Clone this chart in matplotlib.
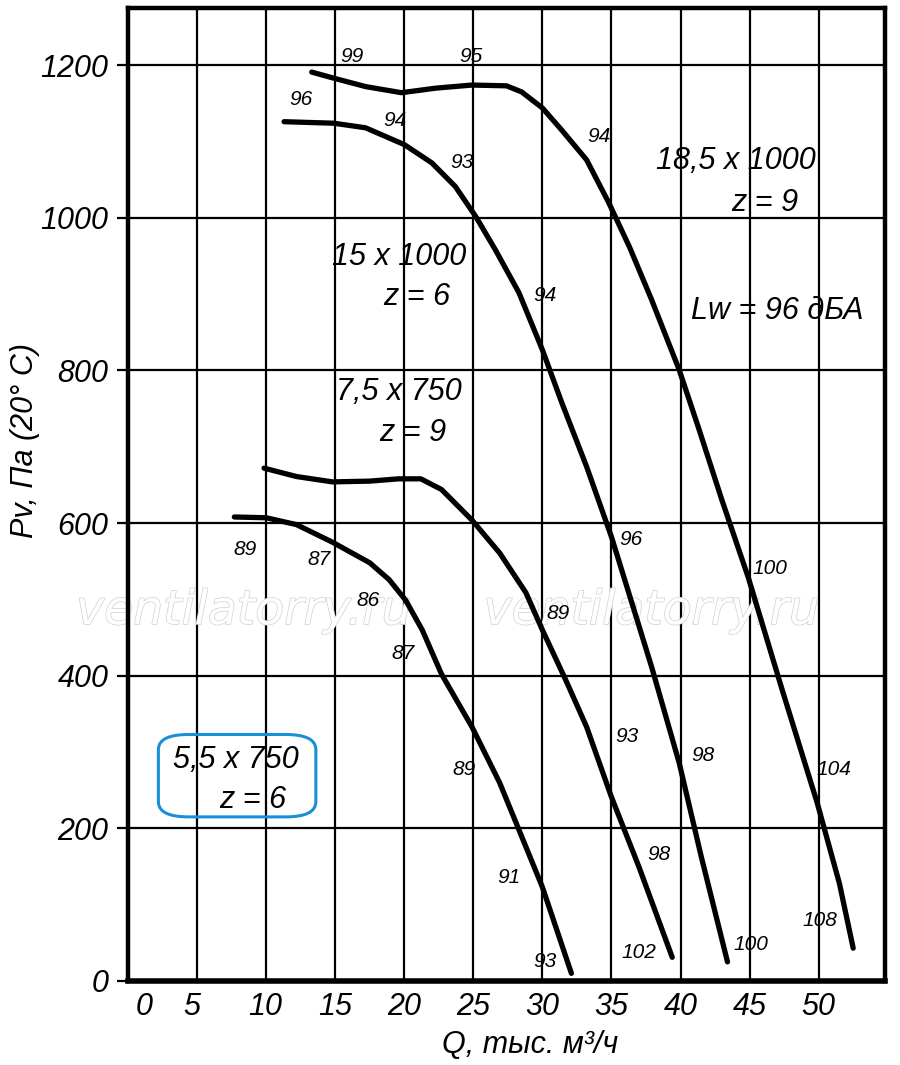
import matplotlib
matplotlib.use("Agg")
import matplotlib.pyplot as plt
import matplotlib.patheffects as pe
from matplotlib.patches import FancyBboxPatch

FONT = ['Liberation Sans', 'DejaVu Sans']
plt.rcParams['font.family'] = FONT
plt.rcParams['font.style'] = 'italic'

# --- fan curves, Q [thousand m3/h] vs Pv [Pa] ---
q_55 = [7.7, 10.0, 12.2, 14.8, 17.5, 18.9, 20.1, 21.3, 22.7, 24.9, 26.9, 28.1, 30.0, 32.1]
p_55 = [608, 607, 598, 575, 548, 526, 499, 460, 402, 333, 260, 207, 123, 10]

q_75 = [9.85, 12.2, 14.8, 17.5, 19.6, 21.2, 22.7, 24.9, 26.9, 28.8, 30.0, 31.7, 33.2, 35.0, 37.0, 39.4]
p_75 = [672, 661, 654, 655, 658, 658, 644, 604, 561, 509, 460, 394, 333, 241, 149, 31]

q_150 = [11.3, 14.9, 17.2, 20.0, 22.0, 23.7, 25.2, 26.6, 28.3, 30.0, 31.4, 33.2, 35.0, 37.9,
         39.9, 41.5, 43.4]
p_150 = [1126, 1124, 1118, 1096, 1072, 1041, 1001, 958, 902, 827, 758, 674, 582, 412,
         286, 163, 25]

q_185 = [13.3, 14.9, 17.2, 19.8, 22.3, 24.9, 27.4, 28.5, 30.0, 31.4, 33.2, 34.8, 36.3, 37.9,
         39.9, 41.3, 43.0, 44.9, 47.3, 49.9, 51.5, 52.5]
p_185 = [1191, 1183, 1172, 1164, 1170, 1174, 1173, 1165, 1144, 1115, 1076, 1020, 962, 893,
         801, 725, 630, 529, 385, 233, 128, 43]

# noise level marks along the curves: (Q, P, text)
noise_q = [16.2, 24.8, 12.5, 19.3, 24.2, 34.1, 30.2, 8.5, 13.8, 17.4, 19.9, 31.1, 36.4, 46.5,
           36.1, 24.3, 41.6, 51.1, 38.4, 27.6, 50.1, 45.1, 37.0, 30.2]
noise_p = [1211, 1211, 1155, 1128, 1072, 1106, 898, 565, 552, 498, 429, 482, 578, 541,
           320, 277, 295, 277, 166, 135, 79, 48, 37, 25]
noise_t = ['99', '95', '96', '94', '93', '94', '94', '89', '87', '86', '87', '89', '96', '100',
           '93', '89', '98', '104', '98', '91', '108', '100', '102', '93']

# motor labels: (Q, P, text)
motor_q = [44.0, 46.1, 19.6, 20.9, 19.6, 20.6, 7.8, 9.0, 47.0]
motor_p = [1075, 1020, 949, 896, 772, 718, 290, 237, 878]
motor_t = ['18,5 x 1000', 'z = 9', '15 x 1000', 'z = 6', '7,5 x 750', 'z = 9',
           '5,5 x 750', 'z = 6', 'Lw = 96 дБА']

xgrid = [5, 10, 15, 20, 25, 30, 35, 40, 45, 50]
ygrid = [200, 400, 600, 800, 1000, 1200]
xtick_pos = [1.2, 4.6, 9.9, 15.0, 20.0, 25.0, 30.0, 35.0, 40.0, 45.0, 50.0]
xtick_lab = ['0', '5', '10', '15', '20', '25', '30', '35', '40', '45', '50']

fig = plt.figure(figsize=(9, 10.65), dpi=100)
ax = fig.add_axes([0.1422, 0.0789, 0.8411, 0.9136])
ax.set_xlim(0, 54.8)
ax.set_ylim(0, 1275)

for x in xgrid:
    ax.axvline(x, color='k', lw=1.6, zorder=1)
for y in ygrid:
    ax.axhline(y, color='k', lw=1.6, zorder=1)

# watermark
for wq in (8.4, 37.9):
    ax.text(wq, 484, 'ventilatorry.ru', ha='center', va='center', fontsize=34,
            family=['DejaVu Sans'], style='italic', color='white', zorder=1.5,
            path_effects=[pe.withStroke(linewidth=1.0, foreground='#d0d0d0')])

for q, p in [(q_55, p_55), (q_75, p_75), (q_150, p_150), (q_185, p_185)]:
    ax.plot(q, p, color='k', lw=3.8, solid_capstyle='round', solid_joinstyle='round', zorder=3)

for q, p, t in zip(noise_q, noise_p, noise_t):
    ax.text(q, p, t, ha='center', va='center', fontsize=15, zorder=4)

for q, p, t in zip(motor_q, motor_p, motor_t):
    ax.text(q, p, t, ha='center', va='center', fontsize=22, zorder=4)

box = FancyBboxPatch((2.2, 215), 11.4, 108, boxstyle='round,pad=0,rounding_size=2.2',
                     mutation_aspect=9, fill=False, ec='#1a8fd8', lw=2.2, zorder=4)
ax.add_patch(box)

for s in ax.spines.values():
    s.set_linewidth(3.2)
ax.spines['bottom'].set_linewidth(4)

ax.set_yticks(ygrid + [0])
ax.set_yticklabels([str(v) for v in ygrid] + ['0'], fontsize=22)
ax.tick_params(axis='y', length=8, width=1.6, pad=6)
ax.set_xticks(xtick_pos)
ax.set_xticklabels(xtick_lab, fontsize=22)
ax.tick_params(axis='x', length=0, pad=8)

fig.text(25 / 900, 1 - 440 / 1065, 'Pv, Па (20° C)', rotation=90, ha='center', va='center',
         fontsize=22)
fig.text(530 / 900, 1 - 1045 / 1065, 'Q, тыс. м³/ч', ha='center', va='center', fontsize=22)

fig.savefig('out.png', dpi=100)
